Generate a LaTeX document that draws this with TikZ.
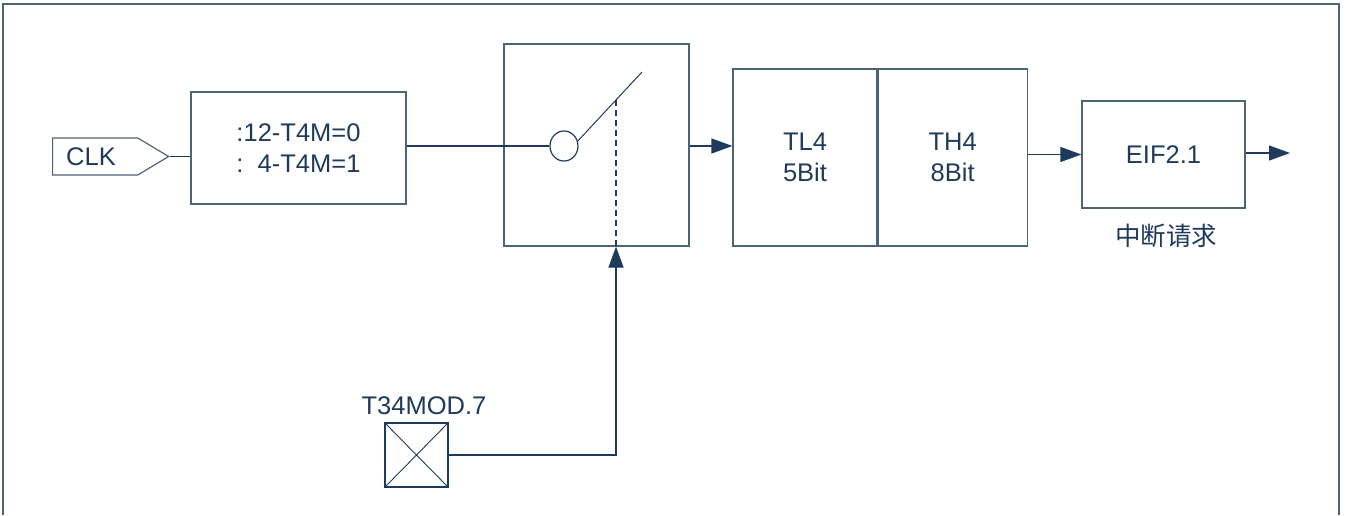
\documentclass[tikz,border=0pt]{standalone}
\usepackage{fontspec}
\setmainfont{Liberation Sans}
\newfontfamily\cjk{Noto Sans CJK SC}
\usepackage{tikz}
\usetikzlibrary{positioning,arrows.meta,shapes.symbols,shapes.geometric}

\definecolor{navy}{HTML}{1F3B5C}
\definecolor{edgegray}{HTML}{4F6378}

\begin{document}
\begin{tikzpicture}[
    x=1pt, y=-1pt,
    font=\fontsize{25.5}{31}\selectfont,
    text=navy,
    box/.style={draw=edgegray, line width=1.2pt, inner sep=0pt, align=center},
    reg_box/.style={box, minimum width=144pt, minimum height=177pt},
    arrow/.style={-{Triangle[length=21pt,width=15pt,fill=navy]}, line width=1.2pt, draw=navy},
    wire/.style={line width=1.2pt, draw=navy}
]
\useasboundingbox (0,0) rectangle (1347,515);

% outer frame, open at the bottom
\draw [edgegray, line width=1.5pt] (3,515) |- (1339,4) -- (1339,515);

\node (clk) [box, signal, signal to=east, signal pointer angle=62, anchor=west,
    minimum width=116pt, minimum height=37pt, inner xsep=2pt, text width=58pt, align=left]
    at (52,156.5) {CLK};

\node (div) [box, minimum width=215pt, minimum height=112pt, align=left] at (298.5,148)
    {:12-T4M=0\\:\ \ 4-T4M=1};

\node (sw) [box, minimum width=185pt, minimum height=202pt] at (596.5,145) {};
\node (circ) [ellipse, draw=navy, line width=1.2pt, minimum width=28pt, minimum height=30pt, inner sep=0pt] at (564,146) {};
\coordinate (lever) at (642,72);
\coordinate (tap) at (616,100);

\node (tl) [reg_box] at (805,157.5) {TL4\\5Bit};
\node (th) [reg_box, minimum width=149pt, right=0pt of tl] {TH4\\8Bit};

\node (eif) [box, minimum width=163pt, minimum height=107pt] at (1163.5,154.5) {EIF2.1};
\node (irq) [inner sep=0pt] at (1166,236) {\cjk 中断请求};
\coordinate (out) at (1290,153);

\node (xb) [box, draw=navy, minimum width=63pt, minimum height=64pt] at (416.5,455) {};
\node (mod) [inner sep=0pt] at (424,406) {T34MOD.7};
\draw [wire, line width=0.9pt] (xb.north west) -- (xb.south east) (xb.north east) -- (xb.south west);

\draw [wire]  (clk.east) -- (clk.east -| div.west);
\draw [wire]  (div.east |- circ) -- (circ.west);
\draw [wire, line width=1pt] (circ.20) -- (lever);
\draw [wire, dash pattern=on 6pt off 4pt] (tap) -- (tap |- sw.south);
\draw [arrow] (sw.east |- circ) -- (circ -| tl.west);
\draw [arrow] (eif.west -| th.east) -- (eif.west);
\draw [arrow] (eif.east |- out) -- (out);
\draw [arrow] (xb.east) -| (tap |- sw.south);

\end{tikzpicture}
\end{document}
